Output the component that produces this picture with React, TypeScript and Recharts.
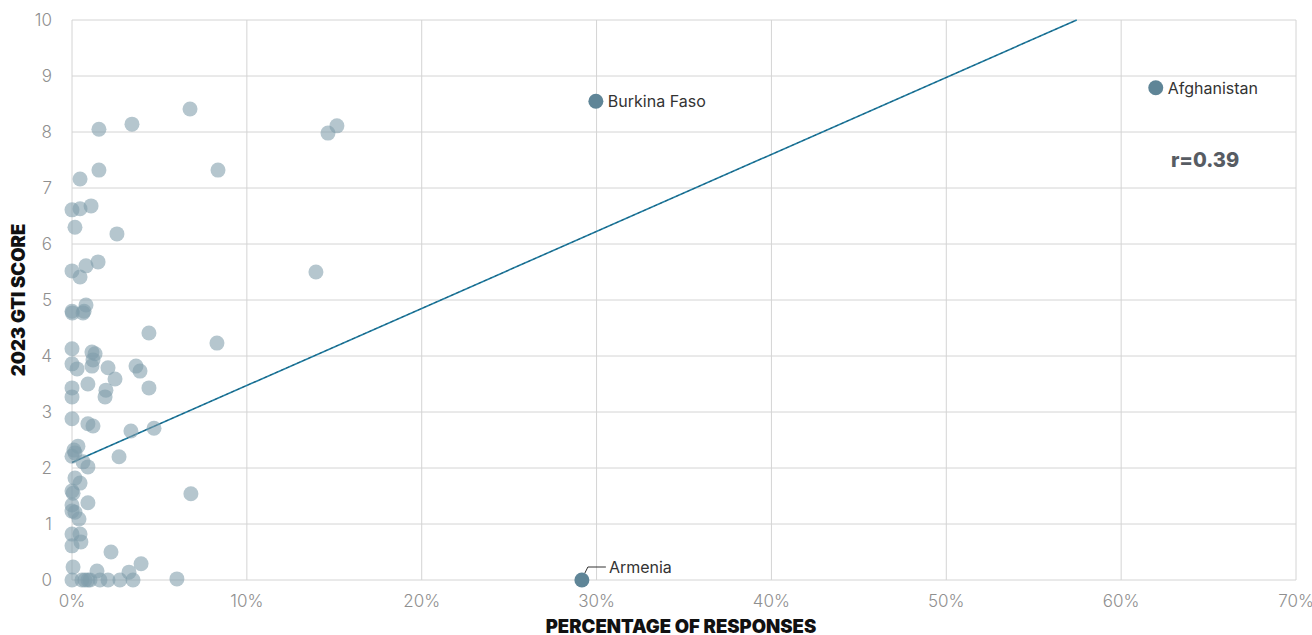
import {
  CartesianGrid,
  Label,
  ReferenceDot,
  ReferenceLine,
  Scatter,
  ScatterChart,
  XAxis,
  YAxis,
} from "recharts";

// share of responses (%) and 2023 GTI score, one entry per country
const responsePct = [
  6.75, 1.54, 3.43, 14.64, 15.15, 8.35, 1.54, 0.46, 0, 0.46, 1.09, 0.17, 2.57,
  13.95, 1.49, 0.8, 0, 0.46, 0.8, 0, 0.02, 0.69, 0.63, 4.4, 8.29, 0, 1.14, 1.32,
  1.2, 1.14, 0, 0.29, 2.06, 3.66, 3.89, 2.46, 0.91, 0, 4.4, 1.94, 1.89, 0, 0,
  0.91, 1.2, 3.37, 4.69, 0.34, 0.11, 0, 0.17, 0.63, 0.91, 2.69, 0.17, 0.46, 0,
  0.06, 6.8, 0.91, 0, 0, 0.17, 0.4, 0, 0.46, 0.51, 0, 2.23, 3.95, 0.06, 1.43,
  3.26, 0, 0.57, 0.74, 0.91, 1.03, 1.6, 2.06, 2.74, 3.49, 6.0,
];
const gtiScore = [
  8.41, 8.05, 8.14, 7.98, 8.11, 7.32, 7.32, 7.16, 6.61, 6.63, 6.68, 6.3, 6.18,
  5.5, 5.68, 5.61, 5.52, 5.41, 4.91, 4.8, 4.77, 4.8, 4.77, 4.41, 4.23, 4.13,
  4.07, 4.04, 3.93, 3.82, 3.86, 3.77, 3.79, 3.82, 3.73, 3.59, 3.5, 3.43, 3.43,
  3.39, 3.27, 3.27, 2.88, 2.79, 2.75, 2.66, 2.71, 2.39, 2.32, 2.21, 2.27, 2.11,
  2.02, 2.2, 1.82, 1.73, 1.59, 1.55, 1.54, 1.38, 1.34, 1.23, 1.21, 1.09, 0.82,
  0.82, 0.68, 0.61, 0.5, 0.29, 0.23, 0.16, 0.14, 0, 0, 0, 0, 0, 0, 0, 0, 0,
  0.02,
];

const highlightCountries = ["Burkina Faso", "Afghanistan", "Armenia"];
const highlightPct = [29.96, 61.98, 29.16];
const highlightScore = [8.55, 8.79, 0];

const trendPct = [0, 57.46];
const trendScore = [2.1, 10];
const correlationText = "r=0.39";

const xTicks = [0, 10, 20, 30, 40, 50, 60, 70];
const yTicks = [0, 1, 2, 3, 4, 5, 6, 7, 8, 9, 10];

const countries = responsePct.map((pct, i) => ({ pct, score: gtiScore[i] }));
const highlighted = highlightCountries.map((name, i) => ({
  name,
  pct: highlightPct[i],
  score: highlightScore[i],
}));

const FONT = "Inter, 'Noto Sans', sans-serif";

const CountryDot = (props: any) => (
  <circle cx={props.cx} cy={props.cy} r={7.5} fill="#7f9caa" fillOpacity={0.58} />
);

const HighlightDot = (props: any) => {
  const { cx, cy, payload } = props;
  const labelStyle = { fontFamily: FONT, fontSize: 16, fill: "#333" };
  if (payload.name === "Armenia") {
    return (
      <g>
        <circle cx={cx} cy={cy} r={7.5} fill="#5f8597" />
        <polyline
          points={`${cx + 3},${cy - 7} ${cx + 6},${cy - 13} ${cx + 24},${cy - 13}`}
          fill="none"
          stroke="#333"
          strokeWidth={1}
        />
        <text x={cx + 27} y={cy - 13} dominantBaseline="central" {...labelStyle}>
          {payload.name}
        </text>
      </g>
    );
  }
  return (
    <g>
      <circle cx={cx} cy={cy} r={7.5} fill="#5f8597" />
      <text x={cx + 12} y={cy} dominantBaseline="central" {...labelStyle}>
        {payload.name}
      </text>
    </g>
  );
};

export default function App() {
  const tickStyle = { fill: "#8f8f8f", fontSize: 17, fontWeight: 300, fontFamily: FONT };
  const trendSegment = [
    { x: trendPct[0], y: trendScore[0] },
    { x: trendPct[1], y: trendScore[1] },
  ];

  return (
    <div style={{ fontFamily: FONT }}>
      <style>{"body{margin:0}"}</style>
      <ScatterChart
        width={1312}
        height={635}
        margin={{ top: 20, right: 16, bottom: 0, left: 0 }}
      >
        <CartesianGrid stroke="#d4d4d4" strokeWidth={1} />
        <XAxis
          type="number"
          dataKey="pct"
          domain={[0, 70]}
          ticks={xTicks}
          tickFormatter={(v) => `${v}%`}
          axisLine={false}
          tickLine={false}
          tickSize={0}
          tickMargin={15}
          height={55}
          tick={tickStyle}
        >
          <Label
            content={({ viewBox }: any) => (
              <text
                x={viewBox.x + viewBox.width / 2 - 3}
                y={viewBox.y + 53}
                textAnchor="middle"
                fontFamily={FONT}
                fontSize={18.5}
                fontWeight={900}
                fill="#111"
              >
                PERCENTAGE OF RESPONSES
              </text>
            )}
          />
        </XAxis>
        <YAxis
          type="number"
          dataKey="score"
          domain={[0, 10]}
          ticks={yTicks}
          axisLine={false}
          tickLine={false}
          tickSize={0}
          tickMargin={20}
          width={72}
          tick={tickStyle}
        >
          <Label
            content={({ viewBox }: any) => {
              const cy = viewBox.y + viewBox.height / 2;
              return (
                <text
                  x={18}
                  y={cy}
                  transform={`rotate(-90 18 ${cy})`}
                  textAnchor="middle"
                  dominantBaseline="central"
                  fontFamily={FONT}
                  fontSize={18.5}
                  fontWeight={900}
                  fill="#111"
                >
                  2023 GTI SCORE
                </text>
              );
            }}
          />
        </YAxis>
        <ReferenceLine segment={trendSegment} stroke="#1c80a8" strokeWidth={1.6} />
        <ReferenceLine
          segment={trendSegment}
          stroke="#2b4856"
          strokeWidth={0.7}
          strokeDasharray="3 3"
        />
        <Scatter data={countries} shape={CountryDot} isAnimationActive={false} />
        <Scatter data={highlighted} shape={HighlightDot} isAnimationActive={false} />
        <ReferenceDot
          x={64.8}
          y={7.5}
          r={0}
          stroke="none"
          fill="none"
          label={{
            value: correlationText,
            position: "center",
            fill: "#575c63",
            fontSize: 20,
            fontWeight: 800,
            fontFamily: FONT,
          }}
        />
      </ScatterChart>
    </div>
  );
}
